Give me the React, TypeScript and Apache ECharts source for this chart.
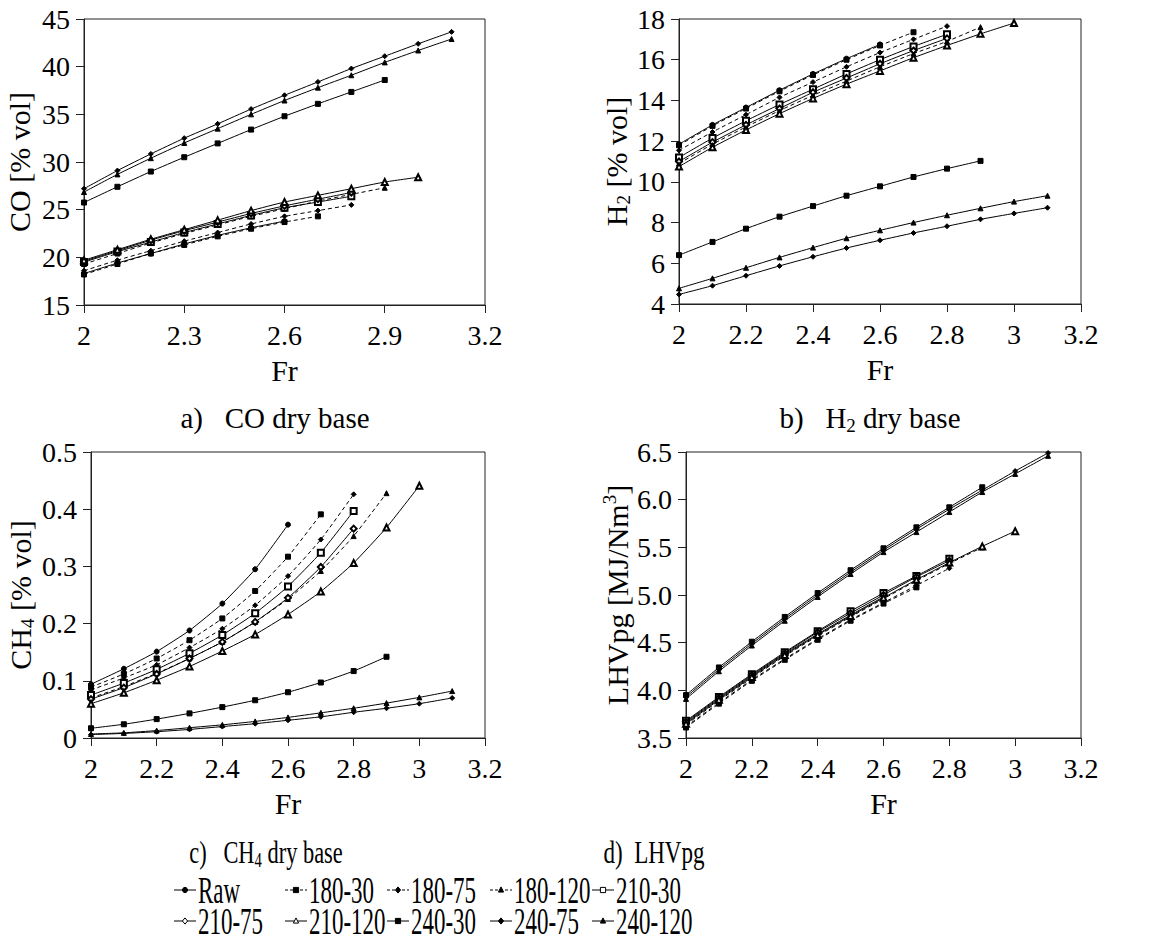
import React, { useEffect, useRef } from 'react';
import * as echarts from 'echarts';

// Fr values (x axis)
const FR = [2.0, 2.1, 2.2, 2.3, 2.4, 2.5, 2.6, 2.7, 2.8, 2.9, 3.0, 3.1];

const SERIES_NAMES = ['Raw', '180-30', '180-75', '180-120', '210-30', '210-75', '210-120', '240-30', '240-75', '240-120'];

// a) CO dry base [% vol]
const coRaw = [18.3, 19.4, 20.4, 21.4, 22.3, 23.1, 23.8];
const co180_30 = [18.2, 19.3, 20.4, 21.3, 22.2, 23.0, 23.7, 24.3];
const co180_75 = [18.6, 19.7, 20.7, 21.7, 22.6, 23.5, 24.3, 24.9, 25.5];
const co180_120 = [19.3, 20.4, 21.5, 22.5, 23.4, 24.3, 25.1, 25.9, 26.6, 27.3];
const co210_30 = [19.5, 20.6, 21.6, 22.6, 23.5, 24.4, 25.2, 25.8, 26.4];
const co210_75 = [19.6, 20.7, 21.8, 22.8, 23.7, 24.6, 25.4, 26.1, 26.8];
const co210_120 = [19.7, 20.8, 21.9, 22.9, 23.9, 24.9, 25.8, 26.5, 27.2, 27.9, 28.4];
const co240_30 = [25.75, 27.4, 29.0, 30.5, 31.95, 33.4, 34.8, 36.1, 37.35, 38.6];
const co240_75 = [27.2, 29.1, 30.85, 32.5, 34.0, 35.55, 37.0, 38.4, 39.8, 41.1, 42.4, 43.65];
const co240_120 = [26.85, 28.7, 30.4, 32.0, 33.5, 35.0, 36.45, 37.8, 39.1, 40.45, 41.7, 42.9];

// b) H2 dry base [% vol]
const h2Raw = [11.85, 12.8, 13.65, 14.5, 15.3, 16.05, 16.75];
const h2180_30 = [11.8, 12.75, 13.6, 14.45, 15.25, 16.0, 16.7, 17.35];
const h2180_75 = [11.55, 12.45, 13.3, 14.15, 14.9, 15.65, 16.35, 17.0, 17.65];
const h2180_120 = [10.9, 11.85, 12.7, 13.5, 14.25, 14.95, 15.65, 16.3, 16.9, 17.6];
const h2210_30 = [11.2, 12.15, 13.0, 13.8, 14.55, 15.3, 16.0, 16.65, 17.25];
const h2210_75 = [11.0, 11.95, 12.8, 13.6, 14.4, 15.1, 15.8, 16.45, 17.05];
const h2210_120 = [10.75, 11.7, 12.55, 13.35, 14.1, 14.8, 15.45, 16.1, 16.7, 17.27, 17.8];
const h2240_30 = [6.4, 7.05, 7.7, 8.29, 8.81, 9.32, 9.78, 10.24, 10.65, 11.03];
const h2240_75 = [4.47, 4.9, 5.39, 5.87, 6.32, 6.75, 7.13, 7.49, 7.82, 8.16, 8.45, 8.73];
const h2240_120 = [4.77, 5.26, 5.78, 6.29, 6.77, 7.23, 7.62, 8.0, 8.36, 8.7, 9.03, 9.32];

// c) CH4 dry base [% vol]
const ch4Raw = [0.094, 0.121, 0.151, 0.188, 0.235, 0.295, 0.373];
const ch4180_30 = [0.089, 0.112, 0.139, 0.171, 0.209, 0.257, 0.317, 0.391];
const ch4180_75 = [0.084, 0.105, 0.128, 0.158, 0.191, 0.232, 0.283, 0.347, 0.426];
const ch4180_120 = [0.07, 0.09, 0.113, 0.139, 0.168, 0.203, 0.243, 0.292, 0.353, 0.428];
const ch4210_30 = [0.075, 0.096, 0.12, 0.148, 0.18, 0.218, 0.265, 0.324, 0.397];
const ch4210_75 = [0.068, 0.088, 0.112, 0.139, 0.168, 0.203, 0.245, 0.299, 0.366];
const ch4210_120 = [0.06, 0.079, 0.101, 0.125, 0.152, 0.181, 0.216, 0.256, 0.306, 0.368, 0.441];
const ch4240_30 = [0.017, 0.024, 0.033, 0.043, 0.054, 0.066, 0.08, 0.097, 0.117, 0.142];
const ch4240_75 = [0.006, 0.008, 0.011, 0.015, 0.02, 0.025, 0.031, 0.037, 0.045, 0.052, 0.06, 0.07];
const ch4240_120 = [0.007, 0.009, 0.013, 0.018, 0.023, 0.029, 0.036, 0.044, 0.052, 0.061, 0.071, 0.082];

// d) LHVpg [MJ/Nm3]
const lhvRaw = [3.66, 3.91, 4.15, 4.38, 4.59, 4.79, 4.98];
const lhv180_30 = [3.61, 3.86, 4.1, 4.32, 4.53, 4.73, 4.91, 5.08];
const lhv180_75 = [3.62, 3.87, 4.11, 4.33, 4.54, 4.74, 4.92, 5.1, 5.28];
const lhv180_120 = [3.64, 3.89, 4.13, 4.36, 4.57, 4.77, 4.96, 5.15, 5.33, 5.5];
const lhv210_30 = [3.68, 3.93, 4.17, 4.4, 4.62, 4.83, 5.02, 5.2, 5.38];
const lhv210_75 = [3.67, 3.92, 4.16, 4.39, 4.61, 4.81, 5.0, 5.19, 5.36];
const lhv210_120 = [3.65, 3.9, 4.14, 4.37, 4.58, 4.78, 4.97, 5.16, 5.34, 5.51, 5.67];
const lhv240_30 = [3.95, 4.24, 4.51, 4.77, 5.02, 5.26, 5.49, 5.71, 5.92, 6.13];
const lhv240_75 = [3.93, 4.22, 4.49, 4.75, 5.0, 5.24, 5.47, 5.69, 5.9, 6.1, 6.3, 6.49];
const lhv240_120 = [3.91, 4.2, 4.47, 4.73, 4.98, 5.22, 5.45, 5.66, 5.87, 6.08, 6.27, 6.46];

const CO = [coRaw, co180_30, co180_75, co180_120, co210_30, co210_75, co210_120, co240_30, co240_75, co240_120];
const H2 = [h2Raw, h2180_30, h2180_75, h2180_120, h2210_30, h2210_75, h2210_120, h2240_30, h2240_75, h2240_120];
const CH4 = [ch4Raw, ch4180_30, ch4180_75, ch4180_120, ch4210_30, ch4210_75, ch4210_120, ch4240_30, ch4240_75, ch4240_120];
const LHV = [lhvRaw, lhv180_30, lhv180_75, lhv180_120, lhv210_30, lhv210_75, lhv210_120, lhv240_30, lhv240_75, lhv240_120];

const FONT = 'Liberation Serif';
const INK = '#000';
const AX = '#222';

const STYLES = [
  { symbol: 'circle', size: 5, dashed: false, kind: 'circle', empty: false },
  { symbol: 'rect', size: 5, dashed: true, kind: 'rect', empty: false },
  { symbol: 'diamond', size: 5, dashed: true, kind: 'diamond', empty: false },
  { symbol: 'triangle', size: 5, dashed: true, kind: 'triangle', empty: false },
  { symbol: 'emptyRect', size: 6, dashed: false, kind: 'rect', empty: true },
  { symbol: 'emptyDiamond', size: 6, dashed: false, kind: 'diamond', empty: true },
  { symbol: 'emptyTriangle', size: 6, dashed: false, kind: 'triangle', empty: true },
  { symbol: 'rect', size: 5, dashed: false, kind: 'rect', empty: false },
  { symbol: 'diamond', size: 5, dashed: false, kind: 'diamond', empty: false },
  { symbol: 'triangle', size: 5, dashed: false, kind: 'triangle', empty: false },
];

const fmt1 = (v: number) => String(Math.round(v * 10) / 10);

function buildOption() {
  const grids = [
    { left: 84, top: 19, width: 401, height: 286 },
    { left: 679, top: 19, width: 402, height: 285 },
    { left: 91, top: 452, width: 394, height: 286 },
    { left: 686, top: 452, width: 395, height: 286 },
  ].map((g) => ({ ...g, show: true, borderColor: AX, borderWidth: 1, backgroundColor: 'transparent' }));

  const xInterval = [0.3, 0.2, 0.2, 0.2];
  const xAxis = xInterval.map((iv, i) => ({
    type: 'value',
    gridIndex: i,
    min: 2,
    max: 3.2,
    interval: iv,
    name: 'Fr',
    nameLocation: 'middle',
    nameGap: 50,
    nameTextStyle: { fontFamily: FONT, fontSize: 30, color: INK },
    axisLine: { show: true, onZero: false, lineStyle: { color: AX, width: 1 } },
    axisTick: { show: true, inside: false, length: 8, lineStyle: { color: AX } },
    axisLabel: { fontFamily: FONT, fontSize: 28, color: INK, margin: 16, formatter: fmt1 },
    splitLine: { show: false },
  }));

  const richBase = {
    n: { fontFamily: FONT, fontSize: 30, color: INK, lineHeight: 34 },
    s: { fontFamily: FONT, fontSize: 19, color: INK, lineHeight: 18, verticalAlign: 'bottom' },
    p: { fontFamily: FONT, fontSize: 19, color: INK, lineHeight: 18, verticalAlign: 'top' },
  };

  const yDefs = [
    { min: 15, max: 45, interval: 5, name: '{n|CO [% vol]}', gap: 48, f: (v: number) => String(v) },
    { min: 4, max: 18, interval: 2, name: '{n|H}{s|2}{n| [% vol]}', gap: 40, f: (v: number) => String(v) },
    { min: 0, max: 0.5, interval: 0.1, name: '{n|CH}{s|4}{n| [% vol]}', gap: 54, f: fmt1 },
    { min: 3.5, max: 6.5, interval: 0.5, name: '{n|LHVpg [MJ/Nm}{p|3}{n|]}', gap: 52, f: (v: number) => v.toFixed(1) },
  ];
  const yAxis = yDefs.map((d, i) => ({
    type: 'value',
    gridIndex: i,
    min: d.min,
    max: d.max,
    interval: d.interval,
    name: d.name,
    nameLocation: 'middle',
    nameGap: d.gap,
    nameTextStyle: { fontFamily: FONT, fontSize: 30, color: INK, rich: richBase },
    axisLine: { show: true, onZero: false, lineStyle: { color: AX, width: 1 } },
    axisTick: { show: true, inside: false, length: 8, lineStyle: { color: AX } },
    axisLabel: { fontFamily: FONT, fontSize: 28, color: INK, margin: 14, formatter: d.f },
    splitLine: { show: false },
  }));

  const datasets = [CO, H2, CH4, LHV];
  const series: any[] = [];
  datasets.forEach((set, g) => {
    set.forEach((vals, s) => {
      const st = STYLES[s];
      series.push({
        type: 'line',
        name: SERIES_NAMES[s],
        xAxisIndex: g,
        yAxisIndex: g,
        data: vals.map((v, i) => [FR[i], v]),
        symbol: st.symbol,
        symbolSize: st.size,
        smooth: 0.15,
        lineStyle: { color: INK, width: 1, type: st.dashed ? [4, 3] : 'solid' },
        itemStyle: { color: INK, borderColor: INK, borderWidth: 1 },
        emphasis: { disabled: true },
        z: 2 + s,
      });
    });
  });

  // captions
  const capRich = (fs: number) => ({
    n: { fontFamily: FONT, fontSize: fs, fill: INK, lineHeight: fs + 5 },
    s: { fontFamily: FONT, fontSize: Math.round(fs * 0.65), fill: INK, lineHeight: Math.round(fs * 0.62), verticalAlign: 'bottom' },
  });
  const captions = [
    { x: 275, y: 418, t: '{n|a)   CO dry base}', sx: 1, fs: 29 },
    { x: 870, y: 418, t: '{n|b)   H}{s|2}{n| dry base}', sx: 1, fs: 29 },
    { x: 266, y: 852, t: '{n|c)   CH}{s|4}{n| dry base}', sx: 0.7, fs: 32 },
    { x: 654, y: 852, t: '{n|d)  LHVpg}', sx: 0.72, fs: 32 },
  ].map((c) => ({
    type: 'text',
    x: c.x,
    y: c.y,
    scaleX: c.sx,
    style: { text: c.t, rich: capRich(c.fs), align: 'center', verticalAlign: 'middle', fill: INK },
  }));

  // legend (drawn with graphic elements)
  const legendEls: any[] = [];
  const colX = [174, 285, 387, 490, 592];
  const rowY = [890, 921];
  SERIES_NAMES.forEach((name, i) => {
    const st = STYLES[i];
    const row = i < 5 ? 0 : 1;
    const col = i % 5;
    const x0 = colX[col];
    const y0 = rowY[row];
    const lw = 22;
    const cx = x0 + lw / 2;
    legendEls.push({
      type: 'line',
      shape: { x1: x0, y1: y0, x2: x0 + lw, y2: y0 },
      style: { stroke: INK, lineWidth: 1, lineDash: st.dashed ? [3, 2] : null },
    });
    const fill = st.empty ? '#fff' : INK;
    const r = 2.6;
    if (st.kind === 'circle') {
      legendEls.push({ type: 'circle', shape: { cx, cy: y0, r }, style: { fill, stroke: INK, lineWidth: 1 } });
    } else if (st.kind === 'rect') {
      legendEls.push({ type: 'rect', shape: { x: cx - r, y: y0 - r, width: 2 * r, height: 2 * r }, style: { fill, stroke: INK, lineWidth: 1 } });
    } else if (st.kind === 'diamond') {
      legendEls.push({ type: 'polygon', shape: { points: [[cx, y0 - r - 0.5], [cx + r, y0], [cx, y0 + r + 0.5], [cx - r, y0]] }, style: { fill, stroke: INK, lineWidth: 1 } });
    } else {
      legendEls.push({ type: 'polygon', shape: { points: [[cx, y0 - r - 0.5], [cx + r, y0 + r - 0.5], [cx - r, y0 + r - 0.5]] }, style: { fill, stroke: INK, lineWidth: 1 } });
    }
    legendEls.push({
      type: 'text',
      x: x0 + lw + 2,
      y: y0 + 1,
      scaleX: 0.62,
      style: { text: name, fontFamily: FONT, fontSize: 37, fill: INK, align: 'left', verticalAlign: 'middle' },
    });
  });

  return {
    animation: false,
    backgroundColor: '#fff',
    textStyle: { fontFamily: FONT },
    grid: grids,
    xAxis,
    yAxis,
    series,
    graphic: [...captions, ...legendEls],
  };
}

export default function App() {
  const ref = useRef<HTMLDivElement>(null);
  useEffect(() => {
    document.body.style.margin = '0';
    const chart = echarts.init(ref.current as HTMLDivElement, null, { renderer: 'svg' });
    chart.setOption(buildOption() as any);
    return () => chart.dispose();
  }, []);
  return <div ref={ref} style={{ width: 1161, height: 947 }} />;
}
